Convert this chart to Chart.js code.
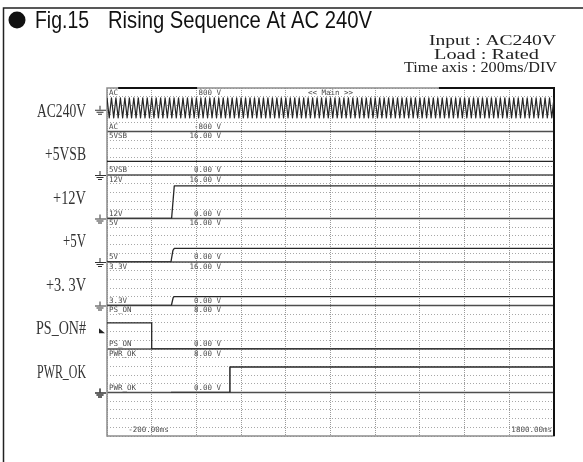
<!DOCTYPE html>
<html>
<head>
<meta charset="utf-8">
<script src="https://cdn.jsdelivr.net/npm/chart.js@4.4.1/dist/chart.umd.min.js"></script>
<style>
  html, body { margin: 0; padding: 0; background: #fff; }
  canvas { display: block; }
</style>
</head>
<body>
<canvas id="scopeChart" width="583" height="462"></canvas>
<script>
// time axis, 200 ms per division
const timeMinMs = -200;
const timeMaxMs = 1800;
const timeStepMs = 200;

// AC input: peaks every half cycle (50 Hz), sampled from the trace
const acStartMs = -200;
const acStepMs = 10;
const acPeaksV = [
  440, -300, 440, -300, 440, -300, 440, -300, 440, -300,
  440, -300, 440, -300, 440, -300, 440, -300, 440, -300,
  440, -300, 440, -300, 440, -300, 440, -300, 440, -300,
  440, -300, 440, -300, 440, -300, 440, -300, 440, -300,
  440, -300, 440, -300, 440, -300, 440, -300, 440, -300,
  440, -300, 440, -300, 440, -300, 440, -300, 440, -300,
  440, -300, 440, -300, 440, -300, 440, -300, 440, -300,
  440, -300, 440, -300, 440, -300, 440, -300, 440, -300,
  440, -300, 440, -300, 440, -300, 440, -300, 440, -300,
  440, -300, 440, -300, 440, -300, 440, -300, 440, -300,
  440, -300, 440, -300, 440, -300, 440, -300, 440, -300,
  440, -300, 440, -300, 440, -300, 440, -300, 440, -300,
  440, -300, 440, -300, 440, -300, 440, -300, 440, -300,
  440, -300, 440, -300, 440, -300, 440, -300, 440, -300,
  440, -300, 440, -300, 440, -300, 440, -300, 440, -300,
  440, -300, 440, -300, 440, -300, 440, -300, 440, -300,
  440, -300, 440, -300, 440, -300, 440, -300, 440, -300,
  440, -300, 440, -300, 440, -300, 440, -300, 440, -300,
  440, -300, 440, -300, 440, -300, 440, -300, 440, -300,
  440, -300, 440, -300, 440, -300, 440, -300, 440, -300,
  440
];

const vsbTimes = [-200, 1800];
const vsbVolts = [5, 5];
const v12Times = [-200, 89, 101, 1800];
const v12Volts = [0, 0, 12, 12];
const v5Times = [-200, 86, 95, 101, 1800];
const v5Volts = [0, 0, 4.3, 5, 5];
const v33Times = [-200, 88, 96, 101, 1800];
const v33Volts = [0, 0, 2.9, 3.3, 3.3];
const psOnTimes = [-200, 0, 0, 1800];
const psOnVolts = [4.8, 4.8, 0, 0];
const pwrOkTimes = [86, 350, 350, 1800];
const pwrOkVolts = [0, 0, 4.7, 4.7];

// channels, top to bottom
const axisIds = ['yAC', 'yVSB', 'y12', 'y5', 'y33', 'yPSON', 'yPWROK', 'yBlank'];
const channelNames = ['AC', '5VSB', '12V', '5V', '3.3V', 'PS_ON', 'PWR_OK', ''];
const channelLabels = ['AC240V', '+5VSB', '+12V', '+5V', '+3. 3V', 'PS_ON#', 'PWR_OK', ''];
const channelMin = [-800, 0, 0, 0, 0, 0, 0, 0];
const channelMax = [800, 16, 16, 16, 16, 8, 8, 8];
const channelTopText = ['800 V', '16.00 V', '16.00 V', '16.00 V', '16.00 V', '8.00 V', '8.00 V', ''];
const channelBottomText = ['-800 V', '0.00 V', '0.00 V', '0.00 V', '0.00 V', '0.00 V', '0.00 V', ''];

const labelWidths = [49, 41, 33, 23, 40, 50, 49, 0];

function toPoints(times, volts) {
  return times.map((t, i) => ({ x: t, y: volts[i] }));
}

const acPoints = acPeaksV.map((v, i) => ({ x: acStartMs + i * acStepMs, y: v }));

function trace(label, data, axis, width) {
  return {
    label: label,
    data: data,
    yAxisID: axis,
    borderColor: '#262626',
    borderWidth: width,
    borderJoinStyle: 'round',
    pointRadius: 0,
    fill: false,
    tension: 0
  };
}

const scales = {
  x: {
    type: 'linear',
    min: timeMinMs,
    max: timeMaxMs,
    ticks: { display: false, stepSize: timeStepMs },
    grid: { color: '#9a9a9a', lineWidth: 1, drawTicks: false },
    border: { display: false, dash: [1, 1] }
  }
};
// left-side stacked scales are laid out last-first, so add them bottom-up
for (let i = axisIds.length - 1; i >= 0; i--) {
  scales[axisIds[i]] = {
    type: 'linear',
    position: 'left',
    stack: 'scope',
    stackWeight: 1,
    min: channelMin[i],
    max: channelMax[i],
    ticks: { display: false, stepSize: (channelMax[i] - channelMin[i]) / 5 },
    grid: { color: '#a8a8a8', lineWidth: 1, drawTicks: false },
    border: { display: false, dash: [1, 2] }
  };
}

function fitText(ctx, text, x, y, width, font) {
  ctx.save();
  ctx.font = font;
  const w = ctx.measureText(text).width;
  ctx.translate(x, y);
  ctx.scale(width / w, 1);
  ctx.textAlign = 'left';
  ctx.fillText(text, 0, 0);
  ctx.restore();
}

function drawGround(ctx, x, y) {
  ctx.beginPath();
  ctx.moveTo(x, y - 4); ctx.lineTo(x, y);
  ctx.moveTo(x - 5, y + 0.5); ctx.lineTo(x + 6, y + 0.5);
  ctx.moveTo(x - 3.5, y + 2.5); ctx.lineTo(x + 3.5, y + 2.5);
  ctx.moveTo(x - 2, y + 4.5); ctx.lineTo(x + 2, y + 4.5);
  ctx.stroke();
}

const scopeDecor = {
  id: 'scopeDecor',
  beforeDatasetsDraw(chart) {
    const ctx = chart.ctx;
    const area = chart.chartArea;
    const xs = chart.scales.x;
    ctx.save();
    // channel separators
    ctx.strokeStyle = '#4e4e4e';
    ctx.lineWidth = 1.5;
    axisIds.forEach(id => {
      const s = chart.scales[id];
      if (s.bottom < area.bottom - 2) {
        ctx.beginPath();
        ctx.moveTo(area.left, s.bottom);
        ctx.lineTo(area.right, s.bottom);
        ctx.stroke();
      }
    });
    // plot frame
    ctx.strokeStyle = '#8c8c8c';
    ctx.lineWidth = 1.5;
    ctx.strokeRect(area.left, area.top, area.right - area.left, area.bottom - area.top);
    ctx.strokeStyle = '#111';
    ctx.lineWidth = 2;
    ctx.beginPath();
    ctx.moveTo(xs.getPixelForValue(-150), area.top);
    ctx.lineTo(xs.getPixelForValue(203), area.top);
    ctx.moveTo(xs.getPixelForValue(1285), area.top);
    ctx.lineTo(area.right, area.top);
    ctx.lineTo(area.right, area.bottom);
    ctx.stroke();
    ctx.restore();
  },
  afterDraw(chart) {
    const ctx = chart.ctx;
    const area = chart.chartArea;
    const xs = chart.scales.x;
    ctx.save();

    // scope channel texts
    ctx.fillStyle = '#4a4a4a';
    ctx.font = '7.5px "DejaVu Sans Mono", monospace';
    const valueRight = xs.getPixelForValue(310);
    axisIds.forEach((id, i) => {
      const s = chart.scales[id];
      if (!channelNames[i]) return;
      ctx.textBaseline = 'top';
      ctx.textAlign = 'left';
      ctx.fillText(channelNames[i], area.left + 2, s.top + 1);
      ctx.textAlign = 'right';
      ctx.fillText(channelTopText[i], valueRight, s.top + 1);
      ctx.textBaseline = 'bottom';
      ctx.textAlign = 'left';
      ctx.fillText(channelNames[i], area.left + 2, s.bottom - 1);
      ctx.textAlign = 'right';
      ctx.fillText(channelBottomText[i], valueRight, s.bottom - 1);
    });
    const acScale = chart.scales.yAC;
    ctx.textBaseline = 'top';
    ctx.textAlign = 'center';
    ctx.fillText('<< Main >>', (area.left + area.right) / 2, acScale.top + 1);
    ctx.textBaseline = 'bottom';
    ctx.textAlign = 'left';
    ctx.fillText('-200.00ms', xs.getPixelForValue(-105), area.bottom - 2);
    ctx.textAlign = 'right';
    ctx.fillText('1800.00ms', area.right - 2, area.bottom - 2);

    // ground marks
    ctx.strokeStyle = '#333';
    ctx.lineWidth = 1;
    axisIds.forEach((id, i) => {
      if (!channelNames[i] || id === 'yPSON') return;
      drawGround(ctx, area.left - 7, chart.scales[id].getPixelForValue(0));
    });
    drawGround(ctx, area.left - 7, chart.scales.yPWROK.bottom);
    const ps = chart.scales.yPSON;
    const my = (ps.top + ps.bottom) / 2 + 5;
    ctx.fillStyle = '#222';
    ctx.beginPath();
    ctx.moveTo(area.left - 8, my - 4);
    ctx.lineTo(area.left - 8, my + 1);
    ctx.lineTo(area.left - 2, my + 1);
    ctx.closePath();
    ctx.fill();

    // channel names on the left
    ctx.fillStyle = '#333';
    ctx.textBaseline = 'middle';
    axisIds.forEach((id, i) => {
      if (!channelLabels[i]) return;
      const s = chart.scales[id];
      fitText(ctx, channelLabels[i], 86 - labelWidths[i], (s.top + s.bottom) / 2 + 2,
        labelWidths[i], '19px "Liberation Serif", serif');
    });

    // outer frame
    ctx.strokeStyle = '#222';
    ctx.lineWidth = 1.5;
    ctx.beginPath();
    ctx.moveTo(3.5, 462);
    ctx.lineTo(3.5, 8);
    ctx.lineTo(583, 8);
    ctx.stroke();

    // title
    ctx.fillStyle = '#111';
    ctx.beginPath();
    ctx.arc(17, 20, 8.5, 0, Math.PI * 2);
    ctx.fill();
    ctx.textBaseline = 'alphabetic';
    fitText(ctx, 'Fig.15', 35, 28, 54, '24px "Liberation Sans", Arial, sans-serif');
    fitText(ctx, 'Rising Sequence At AC 240V', 108, 28, 264, '24px "Liberation Sans", Arial, sans-serif');

    // test conditions
    ctx.fillStyle = '#222';
    fitText(ctx, 'Input : AC240V', 429, 45, 127, '15px "Liberation Serif", serif');
    fitText(ctx, 'Load : Rated', 434, 59, 105, '15px "Liberation Serif", serif');
    fitText(ctx, 'Time axis : 200ms/DIV', 404, 72, 153, '15px "Liberation Serif", serif');
    ctx.restore();
  }
};

new Chart(document.getElementById('scopeChart'), {
  type: 'line',
  data: {
    datasets: [
      trace('AC', acPoints, 'yAC', 1.2),
      trace('5VSB', toPoints(vsbTimes, vsbVolts), 'yVSB', 1.3),
      trace('12V', toPoints(v12Times, v12Volts), 'y12', 1.3),
      trace('5V', toPoints(v5Times, v5Volts), 'y5', 1.3),
      trace('3.3V', toPoints(v33Times, v33Volts), 'y33', 1.3),
      trace('PS_ON', toPoints(psOnTimes, psOnVolts), 'yPSON', 1.3),
      trace('PWR_OK', toPoints(pwrOkTimes, pwrOkVolts), 'yPWROK', 1.5)
    ]
  },
  options: {
    responsive: false,
    animation: false,
    devicePixelRatio: 1,
    layout: { padding: { left: 107, right: 29, top: 88, bottom: 26 } },
    plugins: {
      legend: { display: false },
      title: { display: false },
      tooltip: { enabled: false }
    },
    scales: scales
  },
  plugins: [scopeDecor]
});
</script>
</body>
</html>
